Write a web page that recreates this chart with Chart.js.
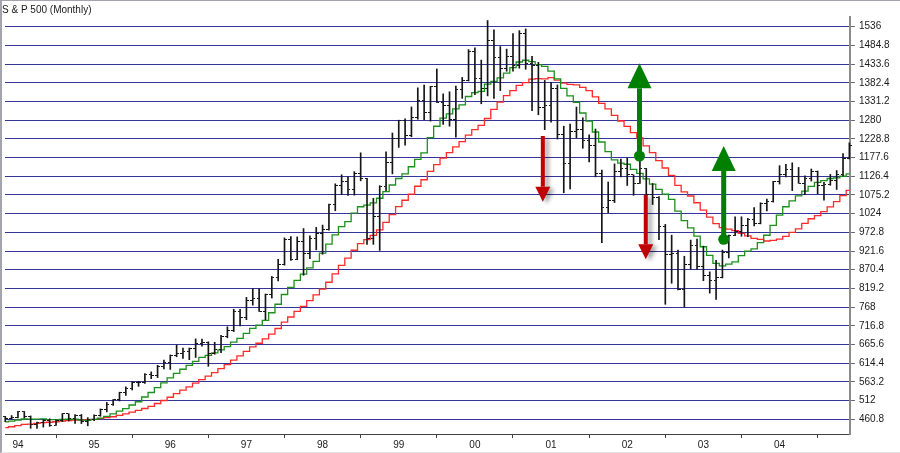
<!DOCTYPE html>
<html>
<head>
<meta charset="utf-8">
<script src="https://cdn.jsdelivr.net/npm/chart.js@4/dist/chart.umd.min.js"></script>
<style>
  body { margin: 0; background: #fff; }
  #wrap { position: relative; width: 900px; height: 453px; }
  #frame { position: absolute; left: 0; top: 0; width: 900px; height: 453px; box-sizing: border-box;
           border-left: 2px solid #a4a4ac; border-top: 1px solid #a4a4ac; border-bottom: 1px solid #e4e4e4; pointer-events: none; }
</style>
</head>
<body>
<div id="wrap">
  <canvas id="spxChart" width="900" height="453"></canvas>
  <div id="frame"></div>
</div>
<script>
// monthly bars, Nov 1993 .. Dec 2004 (index 2 = Jan 1994)
const opens = [
  467.8, 461.8,
  466.5, 481.6, 467.1, 445.8, 450.9, 456.5, 444.3, 458.3, 475.5, 462.7, 472.4, 453.7,
  459.3, 470.4, 487.4, 500.7, 514.7, 533.4, 544.8, 562.1, 561.9, 584.4, 581.5, 605.4,
  615.9, 636.0, 640.4, 645.5, 654.2, 669.1, 670.6, 639.9, 652.0, 687.3, 705.3, 757.0,
  740.7, 786.2, 790.8, 757.1, 801.3, 848.3, 885.1, 954.3, 899.5, 947.3, 914.6, 955.4,
  970.4, 980.3, 1049.3, 1101.8, 1111.8, 1090.8, 1133.8, 1120.7, 957.3, 1017.0, 1098.7, 1163.6,
  1229.2, 1279.6, 1238.3, 1286.4, 1335.2, 1301.8, 1372.7, 1328.7, 1320.4, 1282.7, 1362.9, 1388.9,
  1469.3, 1394.5, 1366.4, 1498.6, 1452.4, 1420.6, 1454.6, 1430.8, 1517.7, 1436.5, 1429.4, 1315.2,
  1320.3, 1366.0, 1239.9, 1160.3, 1249.5, 1255.8, 1224.4, 1211.2, 1133.6, 1040.9, 1059.8, 1139.5,
  1148.1, 1130.2, 1106.7, 1147.4, 1076.9, 1067.1, 989.8, 911.6, 916.1, 815.3, 885.8, 936.3,
  879.8, 855.7, 841.2, 848.2, 916.9, 963.6, 974.5, 990.3, 1008.0, 996.0, 1050.7, 1058.2,
  1111.9, 1131.1, 1144.9, 1126.2, 1107.3, 1120.7, 1140.8, 1101.7, 1104.2, 1114.6, 1130.2, 1173.8
];
const highs = [
  469.0, 471.0,
  482.9, 482.2, 470.0, 453.0, 459.0, 462.1, 459.0, 476.6, 476.1, 473.8, 474.0, 465.3,
  472.8, 489.2, 507.0, 515.0, 535.0, 550.0, 563.8, 565.0, 586.0, 590.7, 608.6, 622.9,
  637.0, 664.2, 656.0, 656.0, 681.0, 680.3, 673.0, 671.7, 690.9, 714.1, 762.1, 761.8,
  794.7, 818.7, 818.0, 804.0, 851.9, 898.7, 957.7, 961.0, 960.3, 983.1, 963.0, 986.3,
  992.7, 1050.0, 1105.7, 1130.5, 1125.0, 1139.0, 1190.6, 1121.0, 1066.0, 1100.6, 1193.0, 1244.9,
  1280.0, 1283.8, 1316.2, 1368.6, 1376.0, 1372.9, 1420.3, 1352.0, 1357.7, 1373.2, 1397.0, 1473.4,
  1478.0, 1444.6, 1552.9, 1527.2, 1481.5, 1474.6, 1517.3, 1525.2, 1530.1, 1454.8, 1438.5, 1389.0,
  1383.4, 1376.4, 1263.5, 1269.3, 1315.9, 1286.6, 1239.8, 1255.8, 1143.5, 1110.6, 1160.3, 1173.6,
  1176.6, 1130.2, 1173.0, 1147.8, 1106.6, 1070.7, 994.5, 965.0, 924.0, 907.4, 951.6, 954.3,
  935.0, 864.6, 895.9, 924.2, 965.4, 1015.3, 1015.4, 1011.0, 1040.3, 1053.8, 1063.7, 1112.6,
  1155.4, 1159.0, 1163.2, 1150.6, 1127.7, 1146.3, 1140.8, 1109.7, 1131.5, 1142.1, 1188.5, 1217.9
];
const lows = [
  454.4, 460.5,
  464.6, 464.3, 436.2, 435.9, 439.4, 441.4, 443.7, 454.3, 456.0, 449.6, 449.0, 443.0,
  457.0, 469.0, 481.0, 499.0, 511.0, 526.0, 541.0, 551.0, 559.0, 572.0, 575.0, 599.0,
  597.3, 632.0, 627.6, 624.0, 630.0, 661.0, 605.9, 639.0, 643.0, 684.0, 701.0, 716.7,
  733.5, 773.4, 756.0, 733.5, 793.0, 840.0, 883.0, 896.0, 898.0, 855.3, 901.0, 925.0,
  912.8, 979.0, 1032.0, 1076.0, 1074.0, 1074.6, 1114.0, 940.0, 940.0, 923.3, 1087.0, 1132.9,
  1205.5, 1211.7, 1234.7, 1282.5, 1281.4, 1277.5, 1328.4, 1268.4, 1263.5, 1233.7, 1340.0, 1387.4,
  1350.1, 1325.0, 1346.6, 1339.4, 1361.1, 1414.0, 1413.9, 1422.3, 1419.4, 1305.8, 1294.9, 1254.1,
  1274.6, 1228.3, 1081.2, 1092.0, 1232.0, 1203.0, 1165.5, 1124.9, 944.8, 1026.8, 1054.3, 1124.3,
  1101.2, 1074.4, 1106.7, 1063.5, 1049.0, 952.9, 775.7, 833.4, 815.3, 768.6, 872.6, 871.8,
  840.3, 806.3, 788.9, 847.9, 902.8, 963.4, 962.1, 960.8, 990.4, 996.0, 1031.2, 1055.6,
  1105.1, 1124.4, 1087.2, 1107.2, 1076.3, 1113.3, 1078.8, 1060.7, 1101.7, 1090.2, 1127.6, 1173.8
];
const closes = [
  461.8, 466.5,
  481.6, 467.1, 445.8, 450.9, 456.5, 444.3, 458.3, 475.5, 462.7, 472.4, 453.7, 459.3,
  470.4, 487.4, 500.7, 514.7, 533.4, 544.8, 562.1, 561.9, 584.4, 581.5, 605.4, 615.9,
  636.0, 640.4, 645.5, 654.2, 669.1, 670.6, 639.9, 652.0, 687.3, 705.3, 757.0, 740.7,
  786.2, 790.8, 757.1, 801.3, 848.3, 885.1, 954.3, 899.5, 947.3, 914.6, 955.4, 970.4,
  980.3, 1049.3, 1101.8, 1111.8, 1090.8, 1133.8, 1120.7, 957.3, 1017.0, 1098.7, 1163.6, 1229.2,
  1279.6, 1238.3, 1286.4, 1335.2, 1301.8, 1372.7, 1328.7, 1320.4, 1282.7, 1362.9, 1388.9, 1469.3,
  1394.5, 1366.4, 1498.6, 1452.4, 1420.6, 1454.6, 1430.8, 1517.7, 1436.5, 1429.4, 1315.2, 1320.3,
  1366.0, 1239.9, 1160.3, 1249.5, 1255.8, 1224.4, 1211.2, 1133.6, 1040.9, 1059.8, 1139.5, 1148.1,
  1130.2, 1106.7, 1147.4, 1076.9, 1067.1, 989.8, 911.6, 916.1, 815.3, 885.8, 936.3, 879.8,
  855.7, 841.2, 848.2, 916.9, 963.6, 974.5, 990.3, 1008.0, 996.0, 1050.7, 1058.2, 1111.9,
  1131.1, 1144.9, 1126.2, 1107.3, 1120.7, 1140.8, 1101.7, 1104.2, 1114.6, 1130.2, 1173.8, 1211.9
];
// 10 month average (green)
const avgShort = [
  453.6, 455.9,
  458.9, 461.6, 461.2, 461.2, 462.1, 460.1, 460.1, 460.8, 460.9, 461.5, 458.7, 457.9,
  460.4, 464.1, 468.5, 475.5, 483.0, 490.0, 499.9, 508.8, 521.9, 534.1, 547.6, 560.5,
  574.0, 586.6, 597.8, 608.7, 619.4, 630.3, 635.9, 642.9, 651.1, 660.0, 672.1, 682.2,
  696.2, 709.9, 718.7, 731.8, 752.6, 775.9, 802.6, 822.0, 841.1, 858.5, 875.4, 893.3,
  915.7, 940.5, 965.8, 988.5, 1002.1, 1025.6, 1042.9, 1047.2, 1053.3, 1066.2, 1084.5, 1102.5,
  1120.3, 1132.9, 1152.5, 1172.6, 1190.7, 1232.3, 1263.4, 1285.6, 1297.5, 1310.9, 1321.8, 1344.9,
  1355.7, 1358.8, 1378.5, 1386.5, 1395.7, 1409.1, 1423.9, 1439.4, 1444.1, 1440.2, 1432.2, 1427.6,
  1414.4, 1393.1, 1367.1, 1346.6, 1329.1, 1299.7, 1277.2, 1247.6, 1220.2, 1194.1, 1171.5, 1162.3,
  1159.3, 1145.0, 1134.2, 1119.4, 1105.0, 1090.6, 1077.7, 1063.3, 1030.9, 1004.7, 985.3, 962.6,
  933.4, 909.9, 888.0, 880.7, 885.9, 891.7, 909.2, 921.5, 927.4, 944.5, 964.8, 991.8,
  1020.1, 1042.9, 1059.2, 1072.5, 1085.5, 1098.8, 1109.4, 1114.7, 1120.3, 1122.2, 1126.4, 1133.1
];
// 20 month average (red)
const avgLong = [
  437.8, 440.3,
  443.7, 446.6, 447.7, 449.5, 451.5, 452.7, 454.1, 456.1, 457.3, 458.7, 458.8, 459.8,
  460.8, 462.6, 465.3, 467.8, 471.5, 475.4, 480.4, 485.2, 490.3, 496.0, 504.0, 512.3,
  521.2, 531.0, 540.4, 549.3, 559.7, 569.6, 578.9, 588.5, 599.4, 610.3, 623.1, 634.4,
  647.0, 659.3, 669.1, 681.0, 694.2, 709.4, 726.9, 741.0, 756.6, 770.3, 785.8, 801.6,
  817.2, 836.1, 859.2, 882.2, 902.4, 923.8, 942.0, 952.8, 964.3, 979.7, 1000.1, 1021.5,
  1043.0, 1060.7, 1077.3, 1099.1, 1116.8, 1139.7, 1158.4, 1175.9, 1191.0, 1206.7, 1221.0, 1238.9,
  1254.1, 1265.7, 1284.6, 1309.4, 1329.5, 1347.3, 1360.7, 1375.1, 1383.0, 1392.5, 1394.0, 1393.2,
  1396.4, 1389.8, 1381.4, 1377.8, 1376.5, 1369.6, 1360.7, 1343.9, 1326.2, 1310.9, 1292.9, 1277.7,
  1263.2, 1245.8, 1231.6, 1209.6, 1191.1, 1169.1, 1149.0, 1128.7, 1101.2, 1083.5, 1072.3, 1053.8,
  1033.8, 1014.7, 996.5, 985.7, 981.8, 977.5, 970.1, 963.1, 956.4, 953.6, 949.1, 950.9,
  954.1, 961.8, 972.5, 982.1, 997.4, 1010.1, 1018.4, 1029.6, 1042.6, 1057.0, 1073.3, 1088.0
];
const yearLabels = ['94', '95', '96', '97', '98', '99', '00', '01', '02', '03', '04'];
const firstJanuary = 2;
const priceTicks = [460.8, 512, 563.2, 614.4, 665.6, 716.8, 768, 819.2, 870.4, 921.6, 972.8,
  1024, 1075.2, 1126.4, 1177.6, 1228.8, 1280, 1331.2, 1382.4, 1433.6, 1484.8, 1536];

// signal arrows: month index, start price, end price
const arrowX = [84.7, 99.93, 100.92, 113.2];
const arrowFrom = [1236.7, 1181.9, 1075, 953.7];
const arrowTo = [1056.7, 1435.8, 899, 1209.3];

function tickMark(side) {
  const c = document.createElement('canvas');
  c.width = 5;
  c.height = 1;
  const g = c.getContext('2d');
  g.fillStyle = '#151515';
  g.fillRect(side === 'left' ? 0 : 3, 0, 2, 1);
  return c;
}

const arrowPlugin = {
  id: 'signalArrows',
  afterDatasetsDraw(chart) {
    const ctx = chart.ctx;
    const xs = chart.scales.x, ys = chart.scales.y;
    arrowX.forEach(function(ax, i) {
      const px = xs.getPixelForValue(ax);
      const y0 = ys.getPixelForValue(arrowFrom[i]);
      const y1 = ys.getPixelForValue(arrowTo[i]);
      const up = y1 < y0;
      const dir = up ? -1 : 1;
      const shaft = up ? 5 : 4;
      const headW = up ? 24 : 15;
      const headL = up ? 25 : 15;
      const color = up ? '#008000' : '#c00000';
      ctx.save();
      if (!up) {
        ctx.shadowColor = 'rgba(0,0,0,0.35)';
        ctx.shadowBlur = 4;
        ctx.shadowOffsetX = 4;
        ctx.shadowOffsetY = 2;
      }
      ctx.fillStyle = color;
      const baseY = y1 - dir * headL;
      ctx.fillRect(px - shaft / 2, Math.min(y0, baseY), shaft, Math.abs(baseY - y0));
      ctx.beginPath();
      ctx.moveTo(px, y1);
      ctx.lineTo(px - headW / 2, baseY);
      ctx.lineTo(px + headW / 2, baseY);
      ctx.closePath();
      ctx.fill();
      if (up) {
        ctx.beginPath();
        ctx.arc(px, y0, 5.5, 0, Math.PI * 2);
        ctx.fill();
      }
      ctx.restore();
    });
  }
};

Chart.defaults.font.family = "'Liberation Sans', Arial, sans-serif";
Chart.defaults.font.size = 10;
Chart.defaults.color = '#1a1a1a';

const ctx = document.getElementById('spxChart').getContext('2d');
new Chart(ctx, {
  type: 'bar',
  data: {
    datasets: [
      {
        type: 'bar',
        data: highs.map((h, i) => ({ x: i, y: [lows[i], h] })),
        backgroundColor: '#151515',
        borderWidth: 0,
        barThickness: 1,
        clip: 4,
        order: 1
      },
      {
        type: 'scatter',
        data: opens.map((v, i) => ({ x: i, y: v })),
        pointStyle: tickMark('left'),
        pointRadius: 2,
        clip: 4,
        order: 0
      },
      {
        type: 'scatter',
        data: closes.map((v, i) => ({ x: i, y: v })),
        pointStyle: tickMark('right'),
        pointRadius: 2,
        clip: 4,
        order: 0
      },
      {
        type: 'line',
        data: avgShort.map((v, i) => ({ x: i, y: v })),
        borderColor: '#1c901c',
        borderWidth: 1.3,
        stepped: 'middle',
        pointRadius: 0,
        fill: false,
        order: 2
      },
      {
        type: 'line',
        data: avgLong.map((v, i) => ({ x: i, y: v })),
        borderColor: '#ff2a2a',
        borderWidth: 1.3,
        stepped: 'middle',
        pointRadius: 0,
        fill: false,
        order: 2
      }
    ]
  },
  options: {
    responsive: false,
    animation: false,
    layout: { padding: { left: 2, right: 0, top: 0, bottom: 0 } },
    plugins: {
      legend: { display: false },
      tooltip: { enabled: false },
      title: {
        display: true,
        text: 'S & P 500 (Monthly)',
        align: 'start',
        color: '#1a1a1a',
        font: { size: 10, weight: 'normal' },
        padding: { top: 4, bottom: 1 }
      }
    },
    scales: {
      x: {
        type: 'linear',
        min: -0.04,
        max: 133.1,
        offset: false,
        grid: { drawOnChartArea: false, drawTicks: true, tickLength: 4, tickColor: '#404040' },
        border: { display: true, color: '#404040', width: 1 },
        ticks: {
          autoSkip: false,
          maxRotation: 0,
          padding: 1,
          callback: (v, i) => yearLabels[i]
        },
        afterBuildTicks: (scale) => {
          scale.ticks = yearLabels.map((l, j) => ({ value: firstJanuary + 12 * j }));
        },
        afterFit: (scale) => { scale.height = 19; }
      },
      y: {
        type: 'linear',
        position: 'right',
        min: 420.5,
        max: 1562.6,
        beginAtZero: false,
        grid: { color: '#34349a', lineWidth: 1, drawTicks: true, tickLength: 5, tickColor: '#6a6a6a' },
        border: { display: true, color: '#8c8c8c', width: 2 },
        ticks: {
          autoSkip: false,
          padding: 4,
          callback: (v) => String(v)
        },
        afterBuildTicks: (scale) => {
          scale.ticks = priceTicks.map(v => ({ value: v }));
        },
        afterFit: (scale) => { scale.width = 50; }
      }
    }
  },
  plugins: [arrowPlugin]
});
</script>
</body>
</html>
